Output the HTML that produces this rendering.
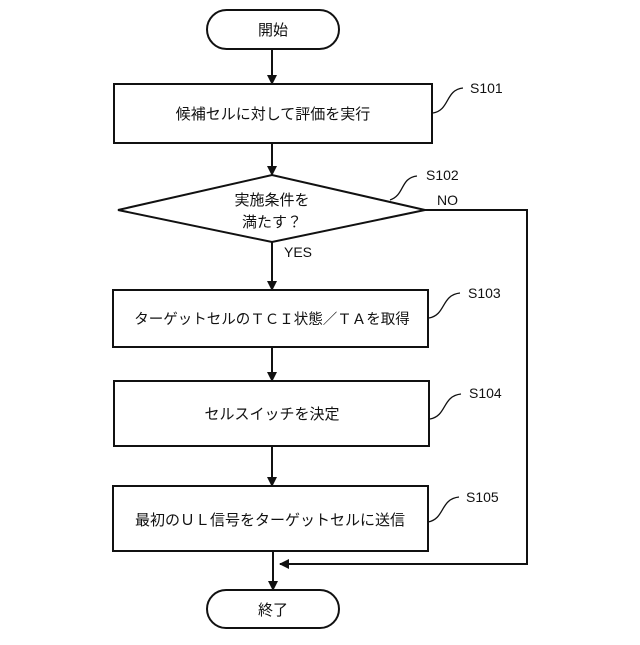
<!DOCTYPE html>
<html><head><meta charset="utf-8"><style>
html,body{margin:0;padding:0;background:#fff;}
svg text{font-family:"Liberation Sans","Noto Sans CJK JP",sans-serif;fill:#111;}
</style></head><body>
<svg width="640" height="640" viewBox="0 0 640 640" xmlns="http://www.w3.org/2000/svg">
<defs><marker id="a" markerWidth="10" markerHeight="10" refX="9" refY="5" orient="auto" markerUnits="userSpaceOnUse"><path d="M0,0 L10,5 L0,10 z" fill="#111"/></marker></defs>
<g stroke="#111" stroke-width="2" fill="none">
<rect x="207" y="10" width="132" height="39" rx="19.5" fill="#fff"/>
<line x1="272" y1="49" x2="272" y2="84" marker-end="url(#a)"/>
<rect x="114" y="84" width="318" height="59" fill="#fff"/>
<line x1="272" y1="143" x2="272" y2="175" marker-end="url(#a)"/>
<polygon points="118,210 272,175 425,210 272,242" fill="#fff"/>
<line x1="272" y1="242" x2="272" y2="290" marker-end="url(#a)"/>
<polyline points="425,210 527,210 527,564 280,564" marker-end="url(#a)"/>
<rect x="113" y="290" width="315" height="57" fill="#fff"/>
<line x1="272" y1="347" x2="272" y2="381" marker-end="url(#a)"/>
<rect x="114" y="381" width="315" height="65" fill="#fff"/>
<line x1="272" y1="446" x2="272" y2="486" marker-end="url(#a)"/>
<rect x="113" y="486" width="315" height="65" fill="#fff"/>
<line x1="273" y1="551" x2="273" y2="590" marker-end="url(#a)"/>
<rect x="207" y="590" width="132" height="38" rx="19" fill="#fff"/>
<g stroke-width="1.3">
<path d="M433,113 C450,110 445,90 463,88"/>
<path d="M390,200 C405,195 400,178 417,176"/>
<path d="M429,318 C446,315 441,295 460,293"/>
<path d="M430,419 C447,416 442,396 461,394"/>
<path d="M428,522 C445,519 440,499 459,497"/>
</g>
</g>
<g font-size="15" text-anchor="middle">
<text x="273" y="35">開始</text>
<text x="273" y="119">候補セルに対して評価を実行</text>
<text x="272" y="205">実施条件を</text>
<text x="272" y="227">満たす？</text>
<text x="272" y="324" font-size="14.5">ターゲットセルのＴＣＩ状態／ＴＡを取得</text>
<text x="272" y="419">セルスイッチを決定</text>
<text x="270" y="525">最初のＵＬ信号をターゲットセルに送信</text>
<text x="273" y="615">終了</text>
</g>
<g font-size="14">
<text x="470" y="93">S101</text>
<text x="426" y="180">S102</text>
<text x="437" y="205">NO</text>
<text x="284" y="257">YES</text>
<text x="468" y="298">S103</text>
<text x="469" y="398">S104</text>
<text x="466" y="502">S105</text>
</g>
</svg>
</body></html>
